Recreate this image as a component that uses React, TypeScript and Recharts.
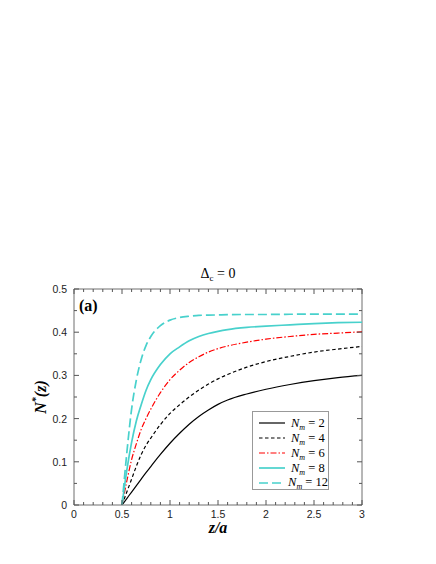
import React from 'react';
import { LineChart, Line, XAxis, YAxis, Legend, Label, ReferenceLine } from 'recharts';

// z/a sample points shared by every curve
const zValues = [0.5, 0.55, 0.6, 0.65, 0.7, 0.75, 0.8, 0.9, 1.0, 1.1, 1.2, 1.3, 1.4, 1.5, 1.6, 1.8, 2.0, 2.25, 2.5, 2.75, 3.0];

// N*(z) for each N_m
const nm2 = [0, 0.015, 0.03, 0.045, 0.06, 0.075, 0.089, 0.117, 0.143, 0.166, 0.187, 0.205, 0.22, 0.233, 0.243, 0.257, 0.268, 0.279, 0.288, 0.295, 0.3];
const nm4 = [0, 0.03, 0.06, 0.09, 0.117, 0.138, 0.155, 0.186, 0.212, 0.232, 0.25, 0.266, 0.28, 0.292, 0.302, 0.319, 0.332, 0.344, 0.354, 0.361, 0.367];
const nm6 = [0, 0.055, 0.105, 0.142, 0.175, 0.2, 0.222, 0.26, 0.29, 0.312, 0.33, 0.343, 0.354, 0.362, 0.368, 0.377, 0.384, 0.39, 0.395, 0.398, 0.401];
const nm8 = [0, 0.08, 0.145, 0.195, 0.232, 0.265, 0.29, 0.325, 0.35, 0.366, 0.38, 0.39, 0.397, 0.402, 0.406, 0.411, 0.414, 0.417, 0.42, 0.422, 0.423];
const nm12 = [0, 0.12, 0.222, 0.29, 0.337, 0.369, 0.39, 0.415, 0.428, 0.434, 0.437, 0.439, 0.4395, 0.44, 0.4405, 0.441, 0.441, 0.4415, 0.442, 0.442, 0.442];

const xMajor = [0, 0.5, 1, 1.5, 2, 2.5, 3];
const yMajor = [0, 0.1, 0.2, 0.3, 0.4, 0.5];
const xTicks = Array.from({ length: 31 }, (_, i) => i / 10);
const yTicks = Array.from({ length: 11 }, (_, i) => i / 20);

const W = 436;
const H = 564;
const MARGIN = { top: 289, right: 74, bottom: 29, left: 34 };
const X_AXIS_H = 30;
const Y_AXIS_W = 40;
const PLOT_W = W - MARGIN.left - Y_AXIS_W - MARGIN.right;
const PLOT_H = H - MARGIN.top - MARGIN.bottom - X_AXIS_H;

const CYAN = '#48d1cc';
const FRAME = '#6e6e6e';
const TICK = '#555';
const SANS = '"Liberation Sans", Arial, sans-serif';
const SERIF = '"Liberation Serif", "Times New Roman", serif';

const SERIES = [
  { key: 'n2', label: '2', values: nm2, color: '#000', dash: undefined as string | undefined, width: 1.2 },
  { key: 'n4', label: '4', values: nm4, color: '#000', dash: '3.5 2.5', width: 1.2 },
  { key: 'n6', label: '6', values: nm6, color: '#ff0000', dash: '6 2 1.5 2', width: 1.2 },
  { key: 'n8', label: '8', values: nm8, color: CYAN, dash: undefined, width: 1.7 },
  { key: 'n12', label: '12', values: nm12, color: CYAN, dash: '9 4', width: 1.7 },
];

const data = zValues.map((z, i) => {
  const row: Record<string, number> = { z };
  SERIES.forEach((s) => { row[s.key] = s.values[i]; });
  return row;
});

const isMajor = (v: number, majors: number[]) => majors.some((m) => Math.abs(m - v) < 1e-6);

// bottom axis ticks also mirror onto the top edge of the box, inward
const XTick = (p: any) => {
  const v = p.payload.value;
  const major = isMajor(v, xMajor);
  const len = major ? 5 : 3;
  const { x, y } = p;
  return (
    <g>
      <path d={`M${x},${y}L${x},${y - len}`} stroke={TICK} strokeWidth={1} />
      <path d={`M${x},${y - PLOT_H}L${x},${y - PLOT_H + len}`} stroke={TICK} strokeWidth={1} />
      {major && (
        <text x={x} y={y + 13} textAnchor="middle" fontSize={10.5} fontFamily={SANS} fill="#222">{v}</text>
      )}
    </g>
  );
};

// left axis ticks also mirror onto the right edge
const YTick = (p: any) => {
  const v = p.payload.value;
  const major = isMajor(v, yMajor);
  const len = major ? 5 : 3;
  const { x, y } = p;
  return (
    <g>
      <path d={`M${x},${y}L${x + len},${y}`} stroke={TICK} strokeWidth={1} />
      <path d={`M${x + PLOT_W},${y}L${x + PLOT_W - len},${y}`} stroke={TICK} strokeWidth={1} />
      {major && (
        <text x={x - 7} y={y + 4} textAnchor="end" fontSize={10.5} fontFamily={SANS} fill="#222">{v}</text>
      )}
    </g>
  );
};

const LegendBox = () => (
  <div style={{ width: 77, height: 79, border: '1px solid #999', boxSizing: 'border-box', background: '#fff', fontFamily: SERIF, fontSize: 12.5, padding: '4px 0 0 6px', color: '#000' }}>
    {SERIES.map((s) => (
      <div key={`lg-${s.key}`} style={{ display: 'flex', alignItems: 'center', height: 14.8, lineHeight: 1 }}>
        <svg width={26} height={6} style={{ display: 'block' }}>
          <line x1={0} y1={3} x2={26} y2={3} stroke={s.color} strokeWidth={s.width} strokeDasharray={s.dash} />
        </svg>
        <span style={{ marginLeft: 6, whiteSpace: 'nowrap' }}>
          <i>N</i>
          <span style={{ fontSize: 8, fontStyle: 'italic', position: 'relative', top: 3 }}>m</span> = {s.label}
        </span>
      </div>
    ))}
  </div>
);

export default function App() {
  return (
    <div style={{ position: 'absolute', left: 0, top: 0, width: W, height: H, background: '#fff' }}>
      <LineChart width={W} height={H} data={data} margin={MARGIN}>
        <XAxis
          dataKey="z" type="number" domain={[0, 3]} allowDataOverflow
          ticks={xTicks} interval={0} height={X_AXIS_H} tickSize={0} tickMargin={0} tickLine={false}
          axisLine={{ stroke: FRAME }} tick={XTick}
        >
          <Label
            content={({ viewBox }: any) => (
              <text x={viewBox.x + viewBox.width / 2} y={viewBox.y + 28} textAnchor="middle" fontFamily={SERIF} fontSize={16} fontWeight="bold" fontStyle="italic">z/a</text>
            )}
          />
        </XAxis>
        <YAxis
          type="number" domain={[0, 0.5]} allowDataOverflow
          ticks={yTicks} interval={0} width={Y_AXIS_W} tickSize={0} tickMargin={0} tickLine={false}
          axisLine={{ stroke: FRAME }} tick={YTick}
        >
          <Label
            content={({ viewBox }: any) => {
              const cx = viewBox.x + 12;
              const cy = viewBox.y + viewBox.height / 2;
              const plotLeft = viewBox.x + viewBox.width;
              return (
                <g>
                  <text x={cx} y={cy} transform={`rotate(-90 ${cx} ${cy})`} textAnchor="middle" fontFamily={SERIF} fontSize={16} fontWeight="bold" fontStyle="italic">
                    N<tspan fontSize={10} dy={-7}>*</tspan><tspan dy={7}>(z)</tspan>
                  </text>
                  <text x={plotLeft + PLOT_W / 2} y={viewBox.y - 11} textAnchor="middle" fontFamily={SERIF} fontSize={14}>
                    Δ<tspan fontSize={9} dy={3}>c</tspan><tspan dy={-3}> = 0</tspan>
                  </text>
                  <text x={plotLeft + 5} y={viewBox.y + 22} fontFamily={SERIF} fontSize={16} fontWeight="bold">(a)</text>
                </g>
              );
            }}
          />
        </YAxis>
        {/* top and right sides of the box */}
        <ReferenceLine y={0.5} stroke={FRAME} />
        <ReferenceLine x={3} stroke={FRAME} />
        <Legend
          layout="vertical" align="center" verticalAlign="middle"
          wrapperStyle={{ position: 'absolute', left: 252, top: 411, width: 77, height: 79 }}
          content={() => <LegendBox />}
        />
        {SERIES.map((s) => (
          <Line
            key={s.key} type="monotone" dataKey={s.key}
            stroke={s.color} strokeWidth={s.width} strokeDasharray={s.dash}
            dot={false} activeDot={false} isAnimationActive={false}
          />
        ))}
      </LineChart>
    </div>
  );
}
